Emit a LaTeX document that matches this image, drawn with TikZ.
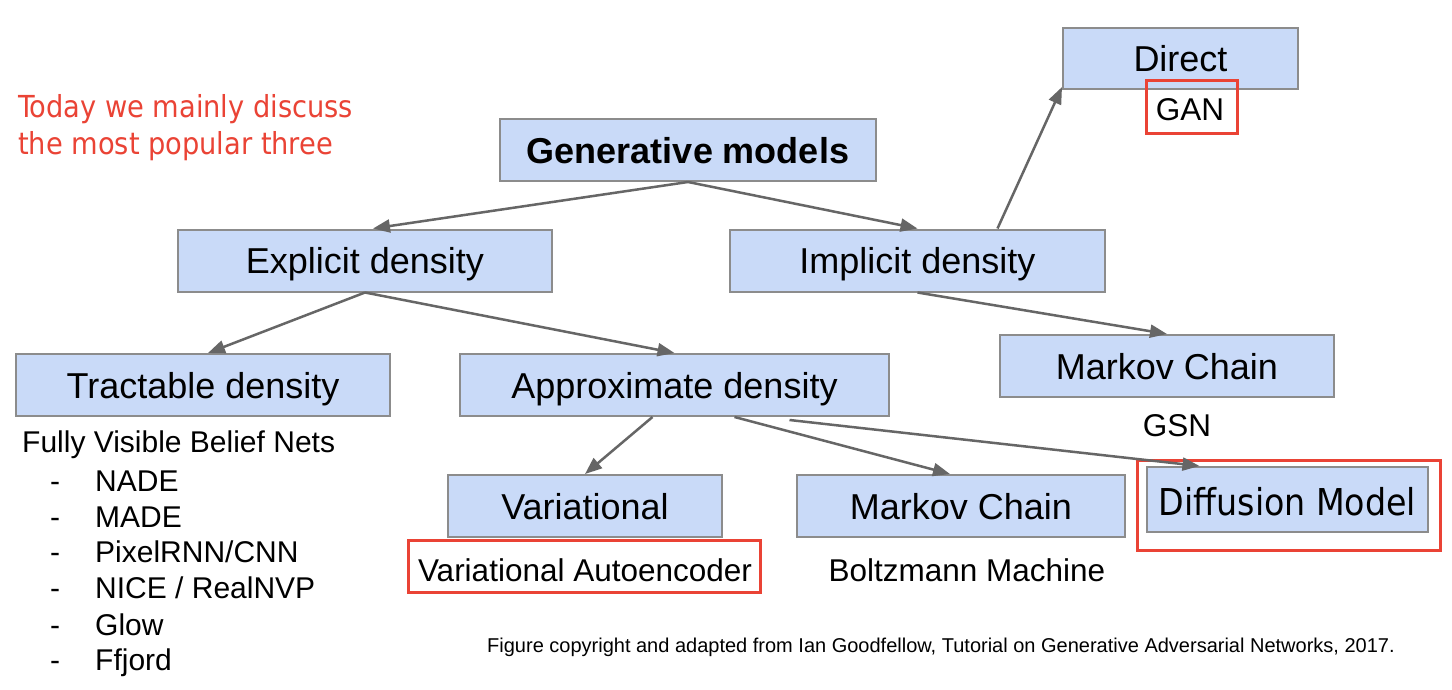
\documentclass[tikz,border=0pt]{standalone}
\usepackage{fontspec}
\setmainfont{Liberation Sans}
\newfontfamily\humfont{DejaVu Sans Condensed}
\usetikzlibrary{arrows.meta}
\definecolor{boxblue}{RGB}{201,218,248}
\definecolor{boxline}{RGB}{140,140,140}
\definecolor{arrgray}{RGB}{102,102,102}
\definecolor{hlred}{RGB}{234,67,53}
\begin{document}
\begin{tikzpicture}[x=1pt,y=-1pt,
  box/.style={draw=boxline, fill=boxblue, line width=2pt, inner sep=0pt, text depth=0pt, font=\fontsize{36}{40}\selectfont},
  hl/.style={draw=hlred, line width=3pt, inner sep=0pt},
  conn/.style={draw=arrgray, line width=2.5pt, -{Triangle[length=17pt,width=13pt]}},
  lbl/.style={inner sep=0pt, anchor=base, font=\fontsize{31.5}{36}\selectfont},
  item/.style={inner sep=0pt, anchor=base west, font=\fontsize{30}{34}\selectfont},
  redtxt/.style={inner sep=0pt, anchor=base west, text=hlred, font=\humfont\fontsize{30.3}{34}\selectfont},
]
\useasboundingbox (0,0) rectangle (1452,690);
\fill[white] (0,0) rectangle (1452,690);

% boxes
\node[box, minimum width=376pt, minimum height=62pt] (gen) at (688,150) {\bfseries Generative models};
\node[box, minimum width=374pt, minimum height=62pt] (expl) at (365,260.5) {Explicit density};
\node[box, minimum width=375pt, minimum height=62pt] (impl) at (917.5,260.5) {Implicit density};
\node[box, minimum width=235pt, minimum height=61pt] (direct) at (1180.5,58.5) {Direct};
\node[box, minimum width=374pt, minimum height=62pt] (tract) at (203,385) {Tractable density};
\node[box, minimum width=429pt, minimum height=62pt] (approx) at (674.5,385) {Approximate density};
\node[box, minimum width=334pt, minimum height=62pt] (mcone) at (1167,366) {Markov Chain};
\node[box, minimum width=274pt, minimum height=62pt] (var) at (585,506) {Variational};
\node[box, minimum width=328pt, minimum height=62pt] (mctwo) at (961,506) {Markov Chain};
\node[box, minimum width=281pt, minimum height=65pt, font=\humfont\fontsize{37}{40}\selectfont] (diff) at (1287.5,499.5) {\raisebox{-3pt}{Diffusion Model}};

% highlight boxes
\node[hl, minimum width=91pt, minimum height=53pt] (ganbox) at (1191.5,107.5) {};
\node[hl, minimum width=352pt, minimum height=52pt] (vaebox) at (584,566) {};
\node[hl, minimum width=303pt, minimum height=90pt] (diffbox) at (1288.5,505) {};

% labels
\node[redtxt] (red1) at (18,118) {Today we mainly discuss};
\node[redtxt] (red2) at (18,155) {the most popular three};
\node[lbl] (gan) at (1190,121) {GAN};
\node[lbl] (gsn) at (1177,436) {GSN};
\node[lbl] (vae) at (585,581) {Variational Autoencoder};
\node[lbl] (boltz) at (967,581) {Boltzmann Machine};
\node[item] (fvbn) at (22,452) {Fully Visible Belief Nets};
\foreach \t/\yy/\n in {NADE/491/a, MADE/527/b, {PixelRNN/CNN}/562/c, {NICE / RealNVP}/598/d, Glow/635/e, Ffjord/670/f}{
  \node[item] (d\n) at (50,\yy) {-};
  \node[item] (i\n) at (95,\yy) {\t};
}
\node[inner sep=0pt, anchor=base west, font=\fontsize{20}{22}\selectfont] (foot) at (487,652) {Figure copyright and adapted from Ian Goodfellow, Tutorial on Generative Adversarial Networks, 2017.};

% connectors
\draw[conn] (gen.south) -- ([xshift=8pt]expl.north);
\draw[conn] (gen.south) -- (impl.north);
\draw[conn] ([xshift=80pt]impl.north) -- ([yshift=3pt]direct.south west);
\draw[conn] (impl.south) -- (mcone.north);
\draw[conn] (expl.south) -- ([xshift=5pt]tract.north);
\draw[conn] (expl.south) -- (approx.north);
\draw[conn] ([xshift=-22pt]approx.south) -- (var.north);
\draw[conn] ([xshift=60pt]approx.south) -- ([xshift=-11pt]mctwo.north);
\draw[conn] ([xshift=115pt,yshift=-3pt]approx.south) -- ([xshift=-88pt]diff.north);
\end{tikzpicture}
\end{document}
